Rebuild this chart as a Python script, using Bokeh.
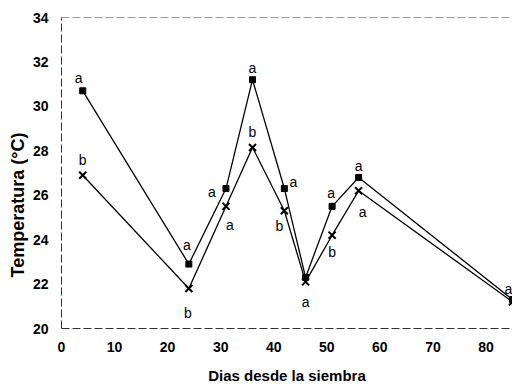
from bokeh.plotting import figure
from bokeh.models import ColumnDataSource, Span, FixedTicker, Title
from bokeh.core.properties import value
from bokeh.embed import file_html
from bokeh.resources import INLINE

# Data
dias = [4, 24, 31, 36, 42, 46, 51, 56, 85]
temp_a = [30.7, 22.9, 26.3, 31.2, 26.3, 22.3, 25.5, 26.8, 21.3]   # squares
temp_b = [26.9, 21.8, 25.5, 28.15, 25.3, 22.1, 24.2, 26.2, 21.2]  # crosses
letras_a = ["a", "a", "a", "a", "a", "", "a", "a", "a"]
letras_b = ["b", "b", "a", "b", "b", "a", "b", "a", ""]
x_ticks = [0, 10, 20, 30, 40, 50, 60, 70, 80]
y_ticks = [20, 22, 24, 26, 28, 30, 32, 34]
x_title = "Dias desde la siembra"
y_title = "Temperatura (°C)"

# label placement (screen px, styling)
dx_a = [-4, -2, -14, 0, 9, 0, -1, 0, -4]
dy_a = [-13, -19, 3, -12, -7, 0, -13, -11, -11]
dx_b = [0, -1, 4, 0, -5, 0, 0, 4, 0]
dy_b = [-15, 24, 19, -15, 15, 20, 17, 21, 0]

src_a = ColumnDataSource(dict(x=dias, y=temp_a, t=letras_a, dx=dx_a, dy=dy_a))
src_b = ColumnDataSource(dict(x=dias, y=temp_b, t=letras_b, dx=dx_b, dy=dy_b))

p = figure(width=512, height=387, output_backend="svg", toolbar_location=None,
           x_range=(0, 85), y_range=(20, 34),
           min_border_left=61, min_border_right=0, min_border_top=17, min_border_bottom=59)
p.outline_line_color = None
p.xgrid.visible = False
p.ygrid.visible = False
p.background_fill_color = "white"
p.border_fill_color = "white"

p.line("x", "y", source=src_a, line_color="black", line_width=1.3)
p.line("x", "y", source=src_b, line_color="black", line_width=1.3)
p.scatter("x", "y", source=src_a, marker="square", size=6, fill_color="black", line_color="black")
p.scatter("x", "y", source=src_b, marker="x", size=10, line_color="black", line_width=2)

for src in (src_a, src_b):
    p.text("x", "y", text="t", source=src, x_offset="dx", y_offset="dy",
           text_align="center", text_baseline="middle",
           text_font=value("Liberation Sans"), text_font_size="14px", text_color="black")

p.add_layout(Span(location=34, dimension="width", line_color="#333333",
                  line_width=1, line_dash="8 3"))

for ax in (p.xaxis[0], p.yaxis[0]):
    ax.axis_line_color = "#333333"
    ax.axis_line_dash = "8 3"
    ax.major_tick_line_color = None
    ax.minor_tick_line_color = None
    ax.major_label_text_font = "Liberation Sans"
    ax.major_label_text_font_size = "14px"
    ax.major_label_text_font_style = "bold"
    ax.major_label_text_color = "black"
    ax.major_label_standoff = 7

p.xaxis.ticker = FixedTicker(ticks=x_ticks)
p.yaxis.ticker = FixedTicker(ticks=y_ticks)

xa = p.xaxis[0]
xa.axis_label = x_title
xa.axis_label_text_font = "Liberation Sans"
xa.axis_label_text_font_size = "15px"
xa.axis_label_text_font_style = "bold"
xa.axis_label_text_color = "black"
xa.axis_label_standoff = 12

p.add_layout(Title(text=y_title, align="left", offset=51, text_font="Liberation Sans",
                   text_font_size="18px", text_font_style="bold", text_color="black",
                   standoff=4), "left")

open("out.html", "w").write(file_html(p, INLINE))
